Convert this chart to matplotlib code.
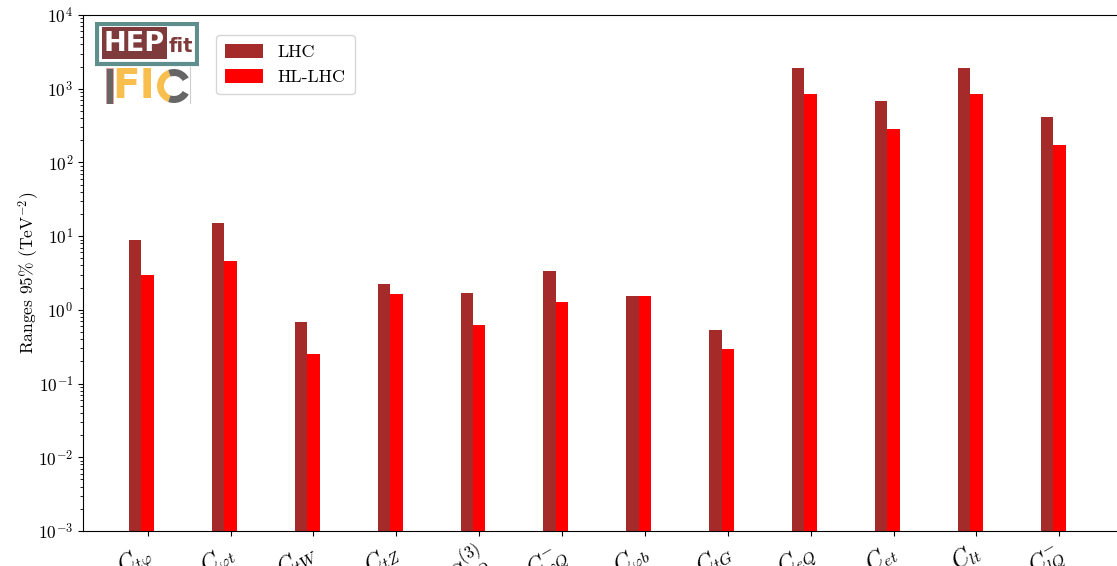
import numpy as np
import matplotlib
matplotlib.use('Agg')
import matplotlib.pyplot as plt
import matplotlib.transforms as mtransforms
from matplotlib.patches import Rectangle, Wedge

plt.rcParams['mathtext.fontset'] = 'cm'
plt.rcParams['font.family'] = 'serif'
plt.rcParams['font.serif'] = ['cmr10']
plt.rcParams['axes.formatter.use_mathtext'] = True
plt.rcParams['axes.unicode_minus'] = False

# Operators and 95% ranges (TeV^-2)
operators = [r'$C_{t\varphi}$', r'$C_{\varphi t}$', r'$C_{tW}$', r'$C_{tZ}$',
             r'$C^{(3)}_{\varphi Q}$', r'$C^{-}_{\varphi Q}$', r'$C_{\varphi b}$', r'$C_{tG}$',
             r'$C_{eQ}$', r'$C_{et}$', r'$C_{lt}$', r'$C^{-}_{lQ}$']
lhc = [8.85, 15.1, 0.68, 2.24, 1.69, 3.36, 1.54, 0.53, 1910, 681, 1910, 413]
hl_lhc = [2.96, 4.59, 0.25, 1.64, 0.62, 1.28, 1.54, 0.29, 850, 284, 850, 172]

fig = plt.figure(figsize=(11.17, 5.66), dpi=100)
ax = fig.add_axes([83 / 1117, 35 / 566, 1036 / 1117, 516 / 566])

x = np.arange(len(operators))
width = 0.15
ax.bar(x - width, lhc, width, color='brown', label='LHC')
ax.bar(x, hl_lhc, width, color='red', label='HL-LHC')

ax.set_yscale('log')
ax.set_ylim(1e-3, 1e4)
ax.set_xlim(-0.78, 11.72)
ax.set_xticks(x)
ax.set_xticklabels(operators, rotation=30, fontsize=17, ha='right', rotation_mode='anchor')
ax.tick_params(axis='x', pad=2.5)
# nudge the rotated labels a little to the left
shift = mtransforms.ScaledTranslation(-3.2 / 72, 0, fig.dpi_scale_trans)
for lbl in ax.get_xticklabels():
    lbl.set_transform(lbl.get_transform() + shift)
ax.tick_params(axis='y', labelsize=12.5)
ax.set_ylabel(r'Ranges 95% (TeV$^{-2}$)', fontsize=12.5, labelpad=-2)
ax.spines['right'].set_visible(False)

ax.legend(loc='upper left', bbox_to_anchor=(0.12, 0.978), fontsize=13,
          handlelength=2.1, handleheight=0.75, handletextpad=0.8,
          borderpad=0.5, labelspacing=0.5)

# Logo (HEPfit + IFIC), drawn in pixel-like coordinates
lg = fig.add_axes([95 / 1117, 1 - 104 / 566, 104 / 1117, 82 / 566])
lg.set_xlim(0, 104)
lg.set_ylim(82, 0)
lg.axis('off')
lg.add_patch(Rectangle((1.5, 1.5), 100, 40, facecolor='white', edgecolor='#5e8f8c', linewidth=3))
lg.add_patch(Rectangle((7, 5), 65, 32, facecolor='#7f3b3b', edgecolor='none'))
lg.text(39.5, 22, 'HEP', color='white', fontsize=19.5, fontweight='bold', family='DejaVu Sans',
        ha='center', va='center')
lg.text(86, 24, 'fit', color='#7f3b3b', fontsize=14, fontweight='bold', family='DejaVu Sans',
        ha='center', va='center')
lg.add_patch(Rectangle((11, 46), 7, 36, facecolor='#666666', edgecolor='#e89a9a', linewidth=0.6))
lg.text(17, 65, 'FI', color='#f8bf4f', fontsize=29, fontweight='bold', family='DejaVu Sans',
        ha='left', va='center')
lg.add_patch(Wedge((79, 64), 17, 110, 250, width=7, facecolor='#f8bf4f', edgecolor='none'))
lg.add_patch(Wedge((79, 64), 17, 250, 330, width=7, facecolor='#666666', edgecolor='none'))
lg.add_patch(Wedge((79, 64), 17, 30, 110, width=7, facecolor='#666666', edgecolor='none'))
lg.plot([95, 95], [45, 82], color='#cccccc', linewidth=0.8)

fig.savefig('out.png', dpi=100)
